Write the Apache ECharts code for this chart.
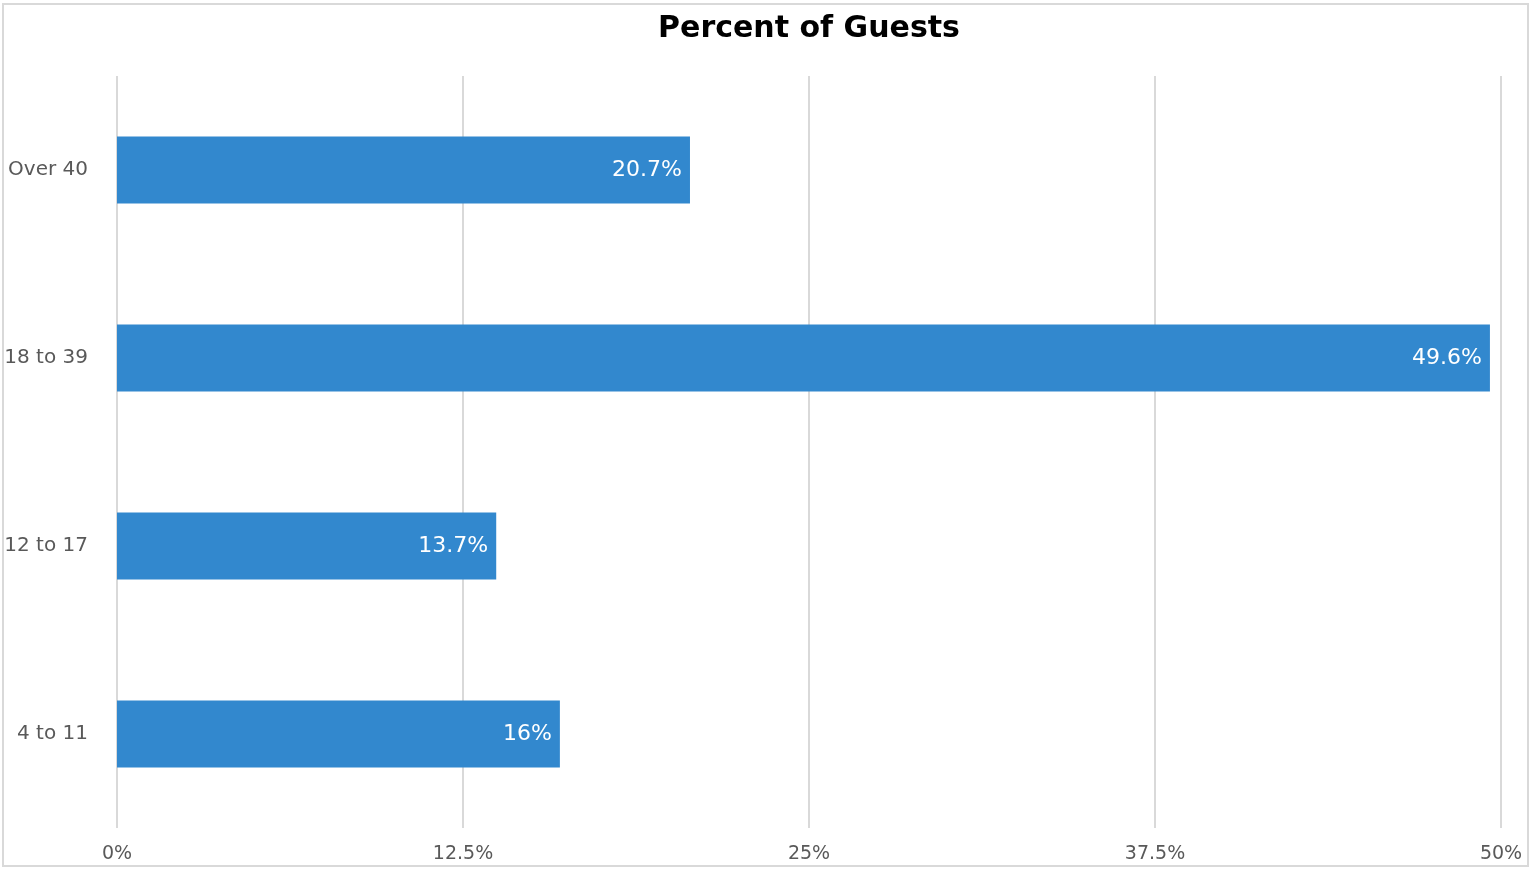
<!DOCTYPE html>
<html>
<head>
<meta charset="utf-8">
<script src="https://cdn.jsdelivr.net/npm/echarts@6/dist/echarts.min.js"></script>
<style>
html,body{margin:0;padding:0;background:#fff;}
#chart{width:1532px;height:870px;}
</style>
</head>
<body>
<div id="chart"></div>
<script>
const categories = ['4 to 11', '12 to 17', '18 to 39', 'Over 40'];
const values = [16, 13.7, 49.6, 20.7];
const tickValues = [0, 12.5, 25, 37.5, 50];
const titleText = 'Percent of Guests';

const chart = echarts.init(document.getElementById('chart'));
const FONT = '"DejaVu Sans", sans-serif';
chart.setOption({
  animation: false,
  backgroundColor: '#fff',
  graphic: [{
    type: 'rect',
    shape: { x: 3, y: 4, width: 1525, height: 862 },
    style: { fill: 'none', stroke: '#d9d9d9', lineWidth: 2 },
    silent: true
  }, {
    type: 'text',
    x: 809,
    y: 29,
    style: {
      text: titleText,
      textAlign: 'center',
      textVerticalAlign: 'middle',
      font: 'bold 30px "DejaVu Sans", sans-serif',
      fill: '#000'
    },
    silent: true
  }],
  grid: { left: 117, right: 31, top: 76, bottom: 42, containLabel: false },
  xAxis: {
    type: 'value',
    min: tickValues[0],
    max: tickValues[tickValues.length - 1],
    interval: 12.5,
    axisLine: { show: false },
    axisTick: { show: false },
    splitLine: { show: true, lineStyle: { color: '#d9d9d9', width: 2 } },
    axisLabel: {
      margin: 17,
      color: '#595959',
      fontFamily: FONT,
      fontSize: 19,
      formatter: v => v + '%'
    }
  },
  yAxis: {
    type: 'category',
    data: categories,
    axisLine: { show: false },
    axisTick: { show: false },
    axisLabel: { margin: 29, color: '#595959', fontFamily: FONT, fontSize: 20 }
  },
  series: [{
    type: 'bar',
    data: values,
    barWidth: 67,
    itemStyle: { color: '#3288ce' },
    label: {
      show: true,
      position: 'insideRight',
      distance: 8,
      color: '#fff',
      fontFamily: FONT,
      fontSize: 22,
      formatter: p => p.value + '%'
    }
  }]
});
</script>
</body>
</html>
